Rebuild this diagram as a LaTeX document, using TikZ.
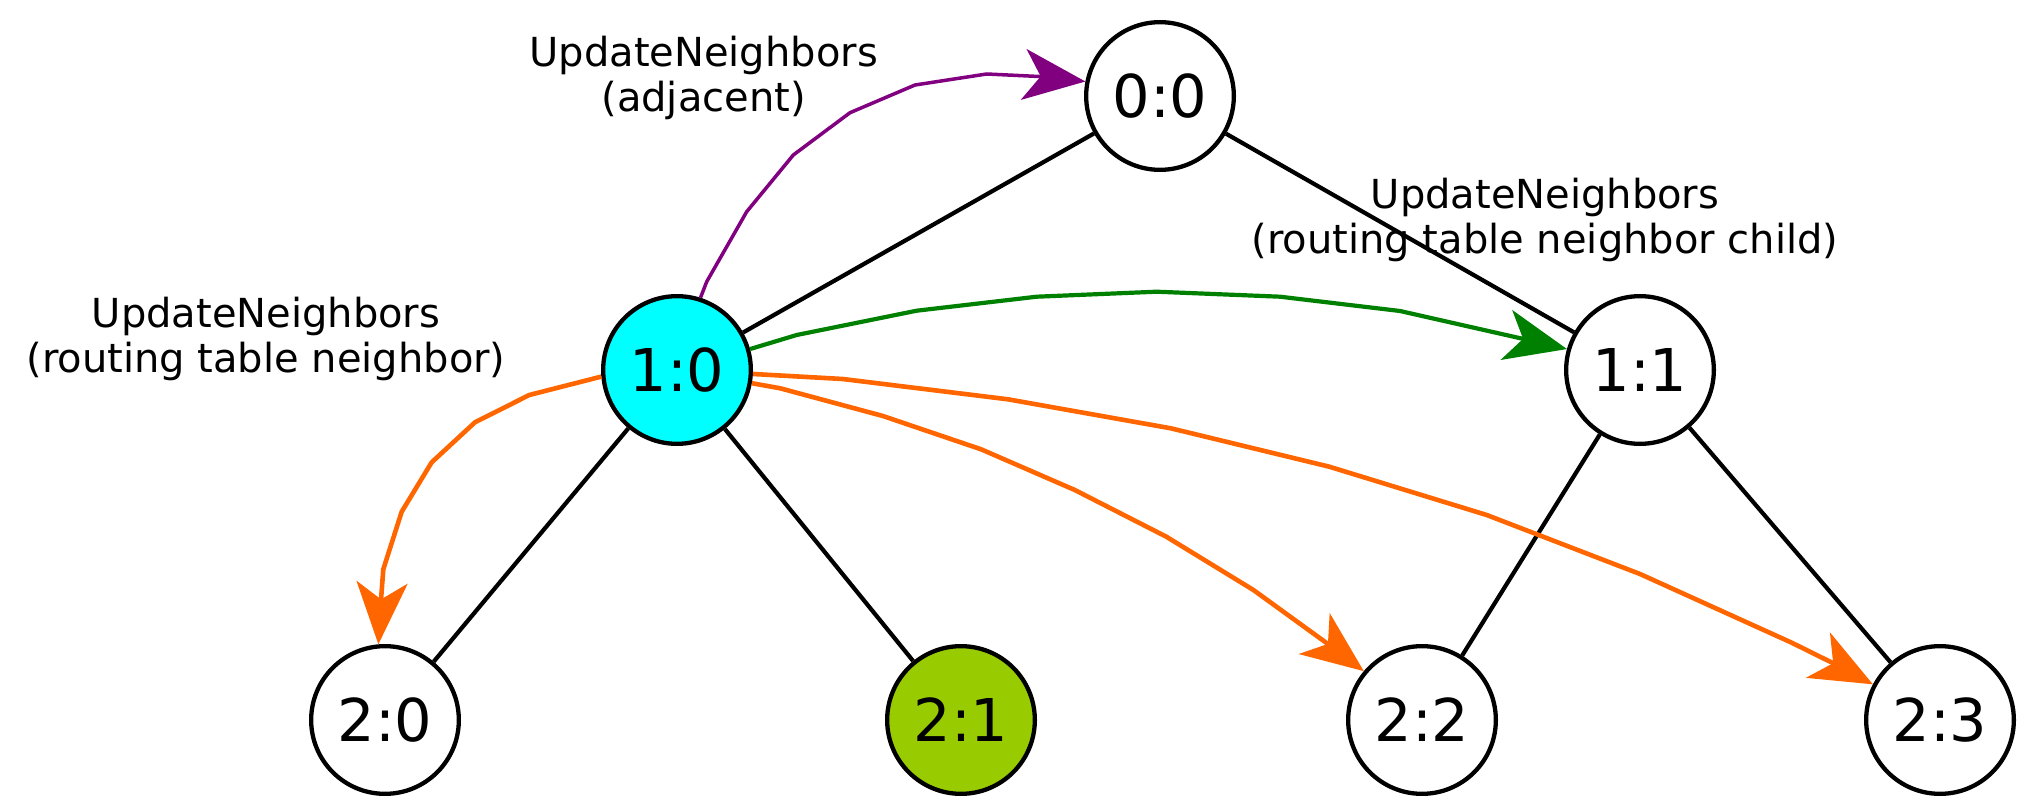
\documentclass[tikz,border=0pt]{standalone}
\usepackage{fontspec}
\setmainfont{DejaVu Sans}
\usetikzlibrary{arrows.meta}
\definecolor{cyanfill}{HTML}{00FFFF}
\definecolor{limefill}{HTML}{99CC00}
\definecolor{adjpurple}{HTML}{800080}
\definecolor{childgreen}{HTML}{008000}
\definecolor{rtorange}{HTML}{FF6600}
\begin{document}
\begin{tikzpicture}[x=1pt,y=-1pt,
  treenode/.style={circle,draw=black,line width=4.3pt,minimum size=147.7pt,inner sep=0pt,fill=white,font=\fontsize{59}{70}\selectfont},
  treeedge/.style={draw=black,line width=4.2pt},
  msg/.style={line width=4.2pt,line join=round,-{Stealth[length=62pt,width=51pt,inset=17pt]}},
  lbl/.style={align=center,font=\fontsize{40}{45}\selectfont,anchor=base,inner sep=0pt}]
\useasboundingbox (0,0) rectangle (2035,810);

\node[treenode] (n00) at (1160,96) {0:0};
\node[treenode,fill=cyanfill] (n10) at (677,370) {1:0};
\node[treenode] (n11) at (1640,370) {1:1};
\node[treenode] (n20) at (385,720) {2:0};
\node[treenode,fill=limefill] (n21) at (961,720) {2:1};
\node[treenode] (n22) at (1422,720) {2:2};
\node[treenode] (n23) at (1940,720) {2:3};

\draw[treeedge] (n10) -- (n00);
\draw[treeedge] (n00) -- (n11);
\draw[treeedge] (n10) -- (n20);
\draw[treeedge] (n10) -- (n21);
\draw[treeedge] (n11) -- (n22);
\draw[treeedge] (n11) -- (n23);

\draw[msg,adjpurple,line width=3.5pt] (n10.72) -- (706.7,281.7) -- (746.7,211.7) -- (793.3,155) -- (850,112.7) -- (915,85) -- (986.7,74) -- (1043.3,76.7) -- (n00.169);
\draw[msg,childgreen] (n10.16) -- (796.7,335) -- (916.7,310.7) -- (1036.7,296.7) -- (1156.7,291.7) -- (1280,296.7) -- (1400,311) -- (1525,339.3) -- (n11.164);
\draw[msg,rtorange,line width=4.6pt] (n10.185) -- (529.3,395) -- (475,422.3) -- (431.7,462.3) -- (401.7,511.7) -- (383.3,569.3) -- (381,600) -- (n20.95);
\draw[msg,rtorange,line width=4.6pt] (n10.350) -- (780.2,388.3) -- (882.9,416) -- (981.1,449.3) -- (1074.8,490) -- (1166.3,536.7) -- (1253.4,590) -- (1329.3,645) -- (n22.140);
\draw[msg,rtorange,line width=4.6pt] (n10.357) -- (842.7,379) -- (1007.9,399.3) -- (1170.8,428.3) -- (1329.3,466.7) -- (1486.7,515) -- (1640,574) -- (1791.7,642.7) -- (1833.3,663.3) -- (n23.152);

\node[lbl] (ladj) at (703.6,111.4) {UpdateNeighbors\\(adjacent)};
\node[lbl] (lrt) at (266,372.7) {UpdateNeighbors\\(routing table neighbor)};
\node[lbl] (lchild) at (1545,254) {UpdateNeighbors\\(routing table neighbor child)};
\end{tikzpicture}
\end{document}
